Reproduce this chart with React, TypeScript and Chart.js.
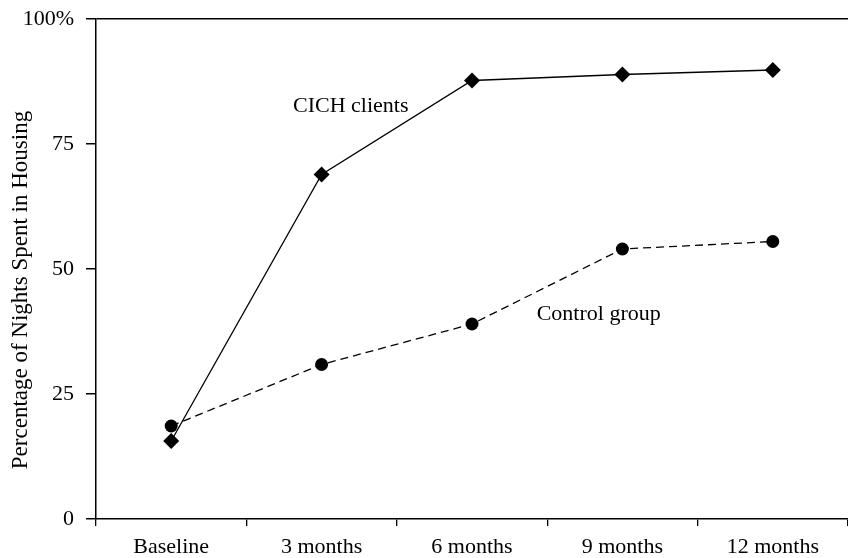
import React, { useEffect, useRef } from "react";
import { Chart, registerables } from "chart.js";

Chart.register(...registerables);

const categories = ["Baseline", "3 months", "6 months", "9 months", "12 months"];
const cichClients = [15.6, 68.9, 87.7, 88.9, 89.8];
const controlGroup = [18.6, 30.9, 39.0, 54.0, 55.5];
const yTicks = [0, 25, 50, 75, 100];
const yTitle = "Percentage of Nights Spent in Housing";
const seriesLabels = ["CICH clients", "Control group"];
// label anchors in data units: [category index, y value]
const labelAnchors = [
  [0.81, 81.4],
  [2.43, 39.8],
];

const FONT = "'Liberation Serif', 'Times New Roman', serif";

export default function App() {
  const ref = useRef<HTMLCanvasElement | null>(null);

  useEffect(() => {
    document.body.style.margin = "0";
    const canvas = ref.current;
    if (!canvas) return;

    const annotations = {
      id: "annotations",
      beforeLayout(chart: any) {},
      afterLayout(chart: any) {
        // pin plot area to the reference frame
        const ca = chart.chartArea;
        const dr = 848 - ca.right;
        const dt = 19 - ca.top;
        if (dr !== 0 || dt !== 0) {
          ca.right += dr;
          ca.top += dt;
          ca.width = ca.right - ca.left;
          ca.height = ca.bottom - ca.top;
          const x = chart.scales.x;
          x.right += dr;
          x.width = x.right - x.left;
          const y = chart.scales.y;
          y.top += dt;
          y.height = y.bottom - y.top;
          x.configure();
          y.configure();
        }
      },
      afterDatasetsDraw(chart: any) {
        const { ctx, scales } = chart;
        ctx.save();
        ctx.fillStyle = "#000";
        ctx.font = `22px ${FONT}`;
        ctx.textAlign = "left";
        ctx.textBaseline = "alphabetic";
        seriesLabels.forEach((t, i) => {
          const [xi, yv] = labelAnchors[i];
          ctx.fillText(t, scales.x.getPixelForValue(xi), scales.y.getPixelForValue(yv));
        });
        ctx.restore();
      },
      afterDraw(chart: any) {
        const { ctx } = chart;
        ctx.save();
        ctx.fillStyle = "#000";
        ctx.font = `23px ${FONT}`;
        ctx.textAlign = "center";
        ctx.textBaseline = "middle";
        ctx.translate(21, 290);
        ctx.rotate(-Math.PI / 2);
        ctx.fillText(yTitle, 0, 0);
        ctx.restore();
      },
    };

    const chart = new Chart(canvas, {
      type: "line",
      data: {
        labels: categories,
        datasets: [
          {
            label: seriesLabels[0],
            data: cichClients,
            borderColor: "#000",
            backgroundColor: "#000",
            borderWidth: 1.3,
            pointStyle: "rectRot",
            pointRadius: 8,
            pointBorderWidth: 0,
            tension: 0,
          },
          {
            label: seriesLabels[1],
            data: controlGroup,
            borderColor: "#000",
            backgroundColor: "#000",
            borderWidth: 1.3,
            borderDash: [8, 5],
            pointStyle: "circle",
            pointRadius: 6.5,
            pointBorderWidth: 0,
            tension: 0,
          },
        ],
      },
      plugins: [annotations],
      options: {
        responsive: false,
        animation: false,
        devicePixelRatio: 1,
        layout: { padding: { top: 19, right: 0, left: 0, bottom: 0 } },
        plugins: {
          legend: { display: false },
          tooltip: { enabled: false },
        },
        scales: {
          x: {
            type: "category",
            offset: true,
            grid: {
              offset: true,
              drawOnChartArea: false,
              drawTicks: true,
              tickLength: 7,
              tickColor: "#000",
              lineWidth: 1.3,
            },
            border: { display: true, color: "#000", width: 1.5 },
            ticks: {
              color: "#000",
              font: { family: FONT, size: 22 },
              padding: 8,
              maxRotation: 0,
              autoSkip: false,
            },
            afterFit(scale: any) {
              scale.height = 39;
            },
          },
          y: {
            min: 0,
            max: 100,
            afterBuildTicks(scale: any) {
              scale.ticks = yTicks.map((v) => ({ value: v }));
            },
            grid: {
              drawOnChartArea: true,
              color: (c: any) => (c.tick && c.tick.value === 100 ? "#000" : "rgba(0,0,0,0)"),
              lineWidth: 1.5,
              drawTicks: true,
              tickLength: 10,
              tickColor: "#000",
            },
            border: { display: true, color: "#000", width: 1.5 },
            ticks: {
              color: "#000",
              font: { family: FONT, size: 22 },
              padding: 12,
              callback: (v: any) => (v === 100 ? "100%" : String(v)),
            },
            afterFit(scale: any) {
              scale.width = 96;
            },
          },
        },
      },
    });

    return () => chart.destroy();
  }, []);

  return <canvas ref={ref} width={848} height={558} style={{ display: "block" }} />;
}
